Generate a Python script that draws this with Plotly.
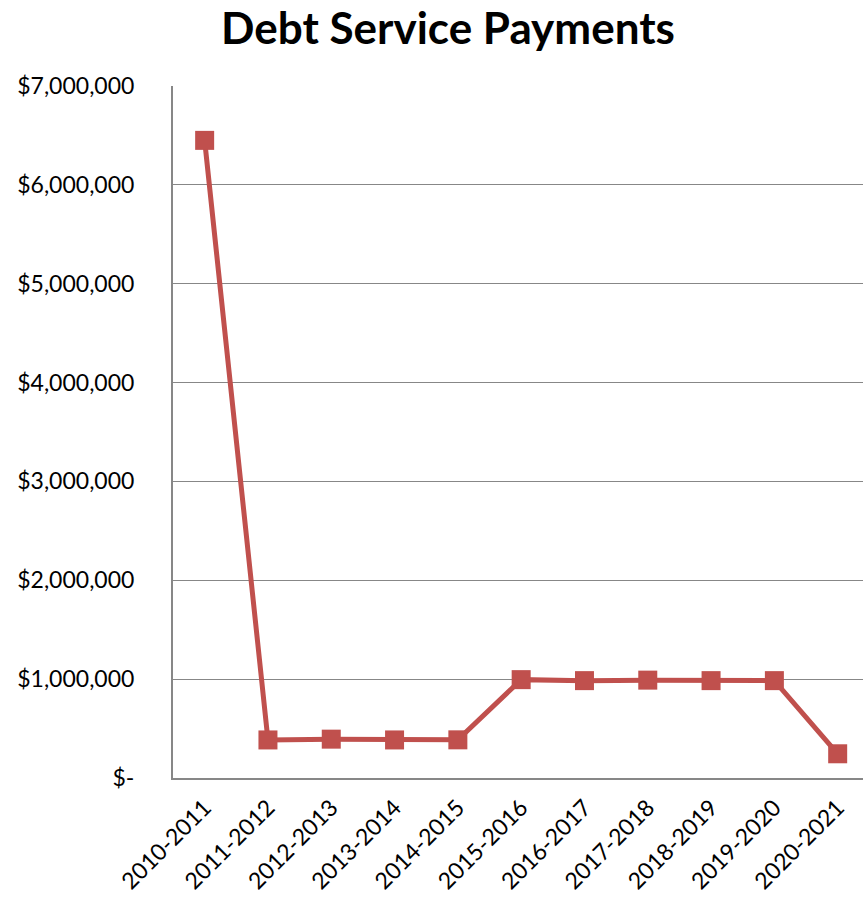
import plotly.graph_objects as go

# Fiscal years and annual debt service payments (USD)
years = ["2010-2011", "2011-2012", "2012-2013", "2013-2014", "2014-2015",
         "2015-2016", "2016-2017", "2017-2018", "2018-2019", "2019-2020", "2020-2021"]
payments = [6450000, 385000, 393000, 385000, 386000,
            995000, 985000, 990000, 985000, 985000, 245000]

# Y-axis tick values and their accounting-style labels
y_ticks = [0, 1000000, 2000000, 3000000, 4000000, 5000000, 6000000, 7000000]
y_labels = ["$-", "$1,000,000", "$2,000,000", "$3,000,000", "$4,000,000",
            "$5,000,000", "$6,000,000", "$7,000,000"]

FONT = "Lato"
RED = "#C0504D"
GRID = "#878787"

fig = go.Figure(
    go.Scatter(
        x=list(range(len(years))),
        y=payments,
        mode="lines+markers",
        line=dict(color=RED, width=5),
        marker=dict(symbol="square", size=19, color=RED),
        cliponaxis=False,
        hoverinfo="x+y",
    )
)

fig.update_layout(
    width=863,
    height=898,
    margin=dict(l=173, r=0, t=86, b=120, autoexpand=False),
    paper_bgcolor="white",
    plot_bgcolor="white",
    showlegend=False,
    font=dict(family=FONT, color="black"),
    title=dict(
        text="<b>Debt Service Payments</b>",
        font=dict(family=FONT, size=44, color="black"),
        x=448 / 863,
        xref="container",
        xanchor="center",
        y=1 - 29 / 898,
        yref="container",
        yanchor="middle",
    ),
)

fig.update_xaxes(
    range=[-0.5, 10.4],
    tickvals=list(range(len(years))),
    ticktext=years,
    tickangle=-45,
    tickfont=dict(family=FONT, size=23, color="black"),
    showgrid=False,
    showline=True,
    linecolor=GRID,
    linewidth=2,
    ticks="outside",
    ticklen=5,
    tickcolor="rgba(0,0,0,0)",
    zeroline=False,
    automargin=False,
)

fig.update_yaxes(
    range=[0, 7000000],
    tickvals=y_ticks,
    ticktext=y_labels,
    tickfont=dict(family=FONT, size=23, color="black"),
    showgrid=True,
    gridcolor=GRID,
    gridwidth=1.3,
    showline=True,
    linecolor=GRID,
    linewidth=2,
    ticks="outside",
    ticklen=32,
    tickcolor="rgba(0,0,0,0)",
    zeroline=False,
    automargin=False,
)

fig.write_html("out.html")
